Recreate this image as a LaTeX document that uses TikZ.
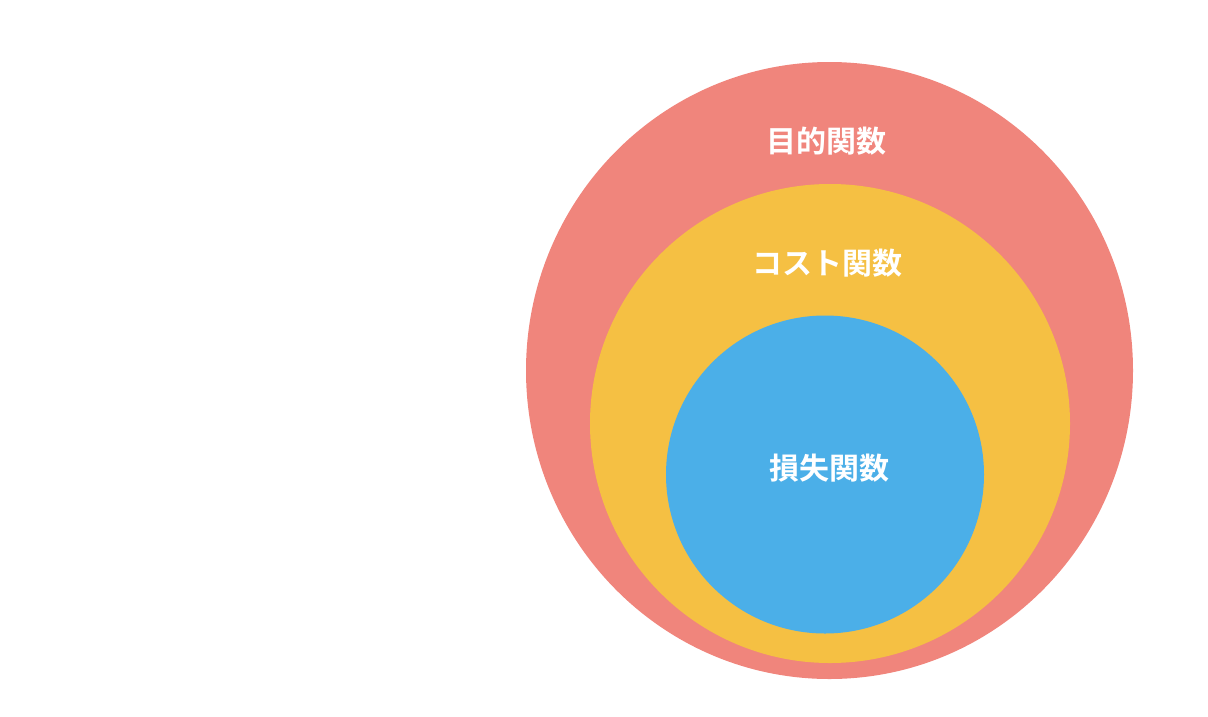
\documentclass[tikz,border=0pt]{standalone}
\usepackage{fontspec}
\newfontfamily\jpfont{Noto Sans CJK JP}[BoldFont={Noto Sans CJK JP Bold}]
\definecolor{objred}{HTML}{F0857C}
\definecolor{costyellow}{HTML}{F5C043}
\definecolor{lossblue}{HTML}{4BAFE8}
\begin{document}
\begin{tikzpicture}[x=1pt,y=-1pt, line join=round,
    fname/.style={text=white,inner sep=0pt,font=\jpfont\bfseries\fontsize{30}{30}\selectfont}]
            \useasboundingbox (0,0) rectangle (1208,716);
            \fill[objred] (829.5,370.5) ellipse [x radius=303.5, y radius=308.5];
            \fill[costyellow] (830,423.5) ellipse [x radius=240, y radius=239.5];
            \fill[lossblue] (825,474.5) circle [radius=159];
            \node[fname] (obj) at (826,141) {目的関数};
            \node[fname] (cost) at (827,263) {コスト関数};
            \node[fname] (loss) at (829.5,468.5) {損失関数};
        \end{tikzpicture}
\end{document}
